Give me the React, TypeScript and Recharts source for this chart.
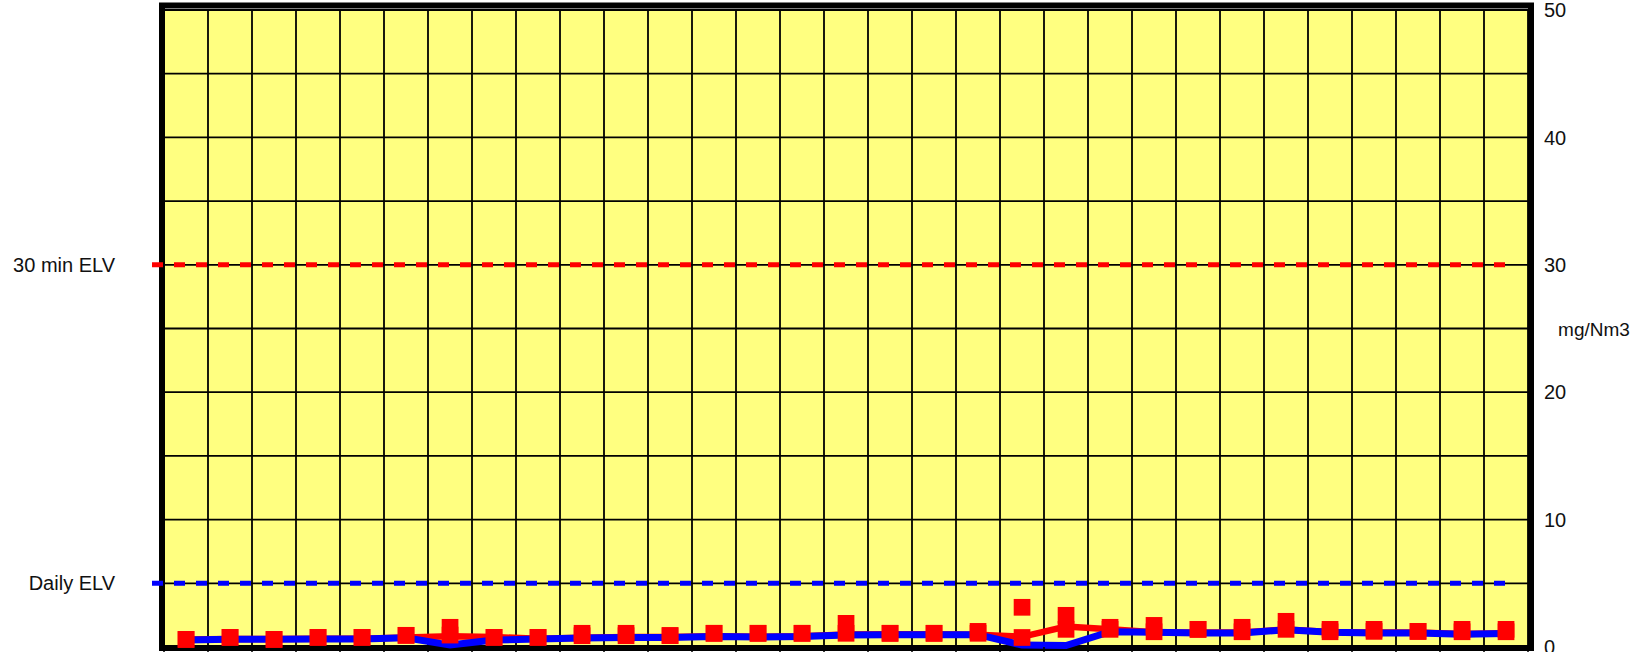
import React from "react";
import {
  LineChart,
  Line,
  XAxis,
  YAxis,
  CartesianGrid,
  ReferenceLine,
  ReferenceArea,
} from "recharts";

const days = [
  1, 2, 3, 4, 5, 6, 7, 8, 9, 10, 11, 12, 13, 14, 15, 16,
  17, 18, 19, 20, 21, 22, 23, 24, 25, 26, 27, 28, 29, 30, 31,
];

// blue line (daily average)
const dailyAvg = [
  0.55, 0.6, 0.6, 0.62, 0.62, 0.72, 0.15, 0.55, 0.62, 0.7, 0.75, 0.75, 0.82, 0.78, 0.82, 0.95,
  0.97, 0.97, 0.97, 0.15, 0.12, 1.2, 1.15, 1.1, 1.1, 1.35, 1.15, 1.1, 1.1, 1.0, 1.05,
];

// red line, mostly hidden under the blue one
const redLine = [
  0.58, 0.63, 0.63, 0.65, 0.65, 0.75, 0.85, 0.78, 0.65, 0.73, 0.78, 0.78, 0.85, 0.81, 0.85, 0.98,
  1.0, 1.0, 0.97, 0.8, 1.6, 1.4, 1.15, 1.13, 1.13, 1.38, 1.18, 1.13, 1.13, 1.03, 1.08,
];

// red square markers
const lowMarks = [
  0.6, 0.76, 0.6, 0.76, 0.76, 0.92, 0.94, 0.76, 0.76, 0.89, 0.89, 0.9, 1.08, 1.08, 1.08, 1.08,
  1.08, 1.08, 1.08, 0.75, 1.39, 1.39, 1.2, 1.39, 1.2, 1.39, 1.2, 1.23, 1.23, 1.2, 1.2,
];
const highMarks = [
  0.6, 0.76, 0.6, 0.76, 0.76, 0.92, 1.55, 0.76, 0.76, 1.08, 1.08, 0.9, 1.08, 1.08, 1.08, 1.86,
  1.08, 1.08, 1.23, 3.12, 2.49, 1.55, 1.7, 1.39, 1.55, 2.02, 1.39, 1.39, 1.23, 1.39, 1.39,
];

const yTicks = [0, 5, 10, 15, 20, 25, 30, 35, 40, 45, 50];
const dailyElv = 5;
const halfHourElv = 30;

const data = days.map((day, i) => ({
  day,
  avg: dailyAvg[i],
  red: redLine[i],
  lo: lowMarks[i],
  hi: highMarks[i],
}));
const dayEdges = days.map((d) => d - 0.5).concat(days[days.length - 1] + 0.5);

const FONT = "'Liberation Sans', Arial, sans-serif";

const Square = (props: any) => {
  const { cx, cy, index } = props;
  if (cx == null || cy == null) return <g key={index} />;
  return <rect key={index} x={cx - 8.3} y={cy - 8.3} width={16.7} height={16.7} fill="#FF0000" />;
};

const elvShape = (label: string, color: string) => (p: any) => {
  const left = Math.min(p.x1, p.x2);
  const right = Math.max(p.x1, p.x2);
  const y = p.y1;
  return (
    <g>
      <line
        x1={left - 12}
        y1={y}
        x2={right - 18}
        y2={y}
        stroke={color}
        strokeWidth={5}
        strokeDasharray="11 11"
      />
      <text
        x={left - 49}
        y={y}
        textAnchor="end"
        dominantBaseline="central"
        fontFamily={FONT}
        fontSize={20}
        fill="#111"
      >
        {label}
      </text>
    </g>
  );
};

const Frame = (p: any) => {
  const l = p.x - 2;
  const r = p.x + p.width + 3;
  const t = p.y - 4.5;
  const b = p.y + p.height + 1;
  return (
    <path
      d={`M${l},${t}H${r}V${b}H${l}Z`}
      fill="none"
      stroke="#000"
      strokeWidth={6}
      strokeLinejoin="miter"
    />
  );
};

export default function App() {
  return (
    <div style={{ position: "absolute", left: 0, top: 0, width: 1640, height: 652, overflow: "hidden" }}>
      <LineChart
        width={1640}
        height={652}
        data={data}
        margin={{ top: 10, right: 0, bottom: 0, left: 164 }}
        style={{ fontFamily: FONT }}
      >
        <CartesianGrid fill="#FFFF80" stroke="#000" strokeWidth={1.8} />
        <XAxis
          type="number"
          dataKey="day"
          domain={[0.5, 31.5]}
          ticks={dayEdges}
          interval={0}
          tickFormatter={() => ""}
          tickLine={{ stroke: "#000", strokeWidth: 1.5 }}
          tickSize={10}
          axisLine={false}
          height={5}
          allowDataOverflow
        />
        <YAxis
          orientation="right"
          domain={[0, 50]}
          ticks={yTicks}
          interval={0}
          tickFormatter={(v: number) => (v % 10 === 0 ? String(v) : "")}
          tick={{ fill: "#111", fontSize: 20, fontFamily: FONT }}
          tickLine={false}
          tickSize={6}
          tickMargin={10}
          axisLine={false}
          width={112}
          label={{
            value: "mg/Nm3",
            position: "center",
            dx: 10,
            dy: 1,
            fill: "#111",
            fontSize: 19,
            fontFamily: FONT,
          }}
        />
        <ReferenceLine y={halfHourElv} shape={elvShape("30 min ELV", "#FF0000")} />
        <ReferenceLine y={dailyElv} shape={elvShape("Daily ELV", "#0000FF")} />
        <Line
          dataKey="red"
          stroke="#FF0000"
          strokeWidth={6.5}
          dot={false}
          activeDot={false}
          isAnimationActive={false}
        />
        <Line
          dataKey="avg"
          stroke="#0000FF"
          strokeWidth={7}
          dot={false}
          activeDot={false}
          isAnimationActive={false}
        />
        <ReferenceArea x1={0.5} x2={31.5} y1={0} y2={50} shape={Frame} ifOverflow="visible" />
        <Line
          dataKey="lo"
          stroke="none"
          strokeWidth={0}
          dot={Square}
          activeDot={false}
          isAnimationActive={false}
        />
        <Line
          dataKey="hi"
          stroke="none"
          strokeWidth={0}
          dot={Square}
          activeDot={false}
          isAnimationActive={false}
        />
      </LineChart>
    </div>
  );
}
